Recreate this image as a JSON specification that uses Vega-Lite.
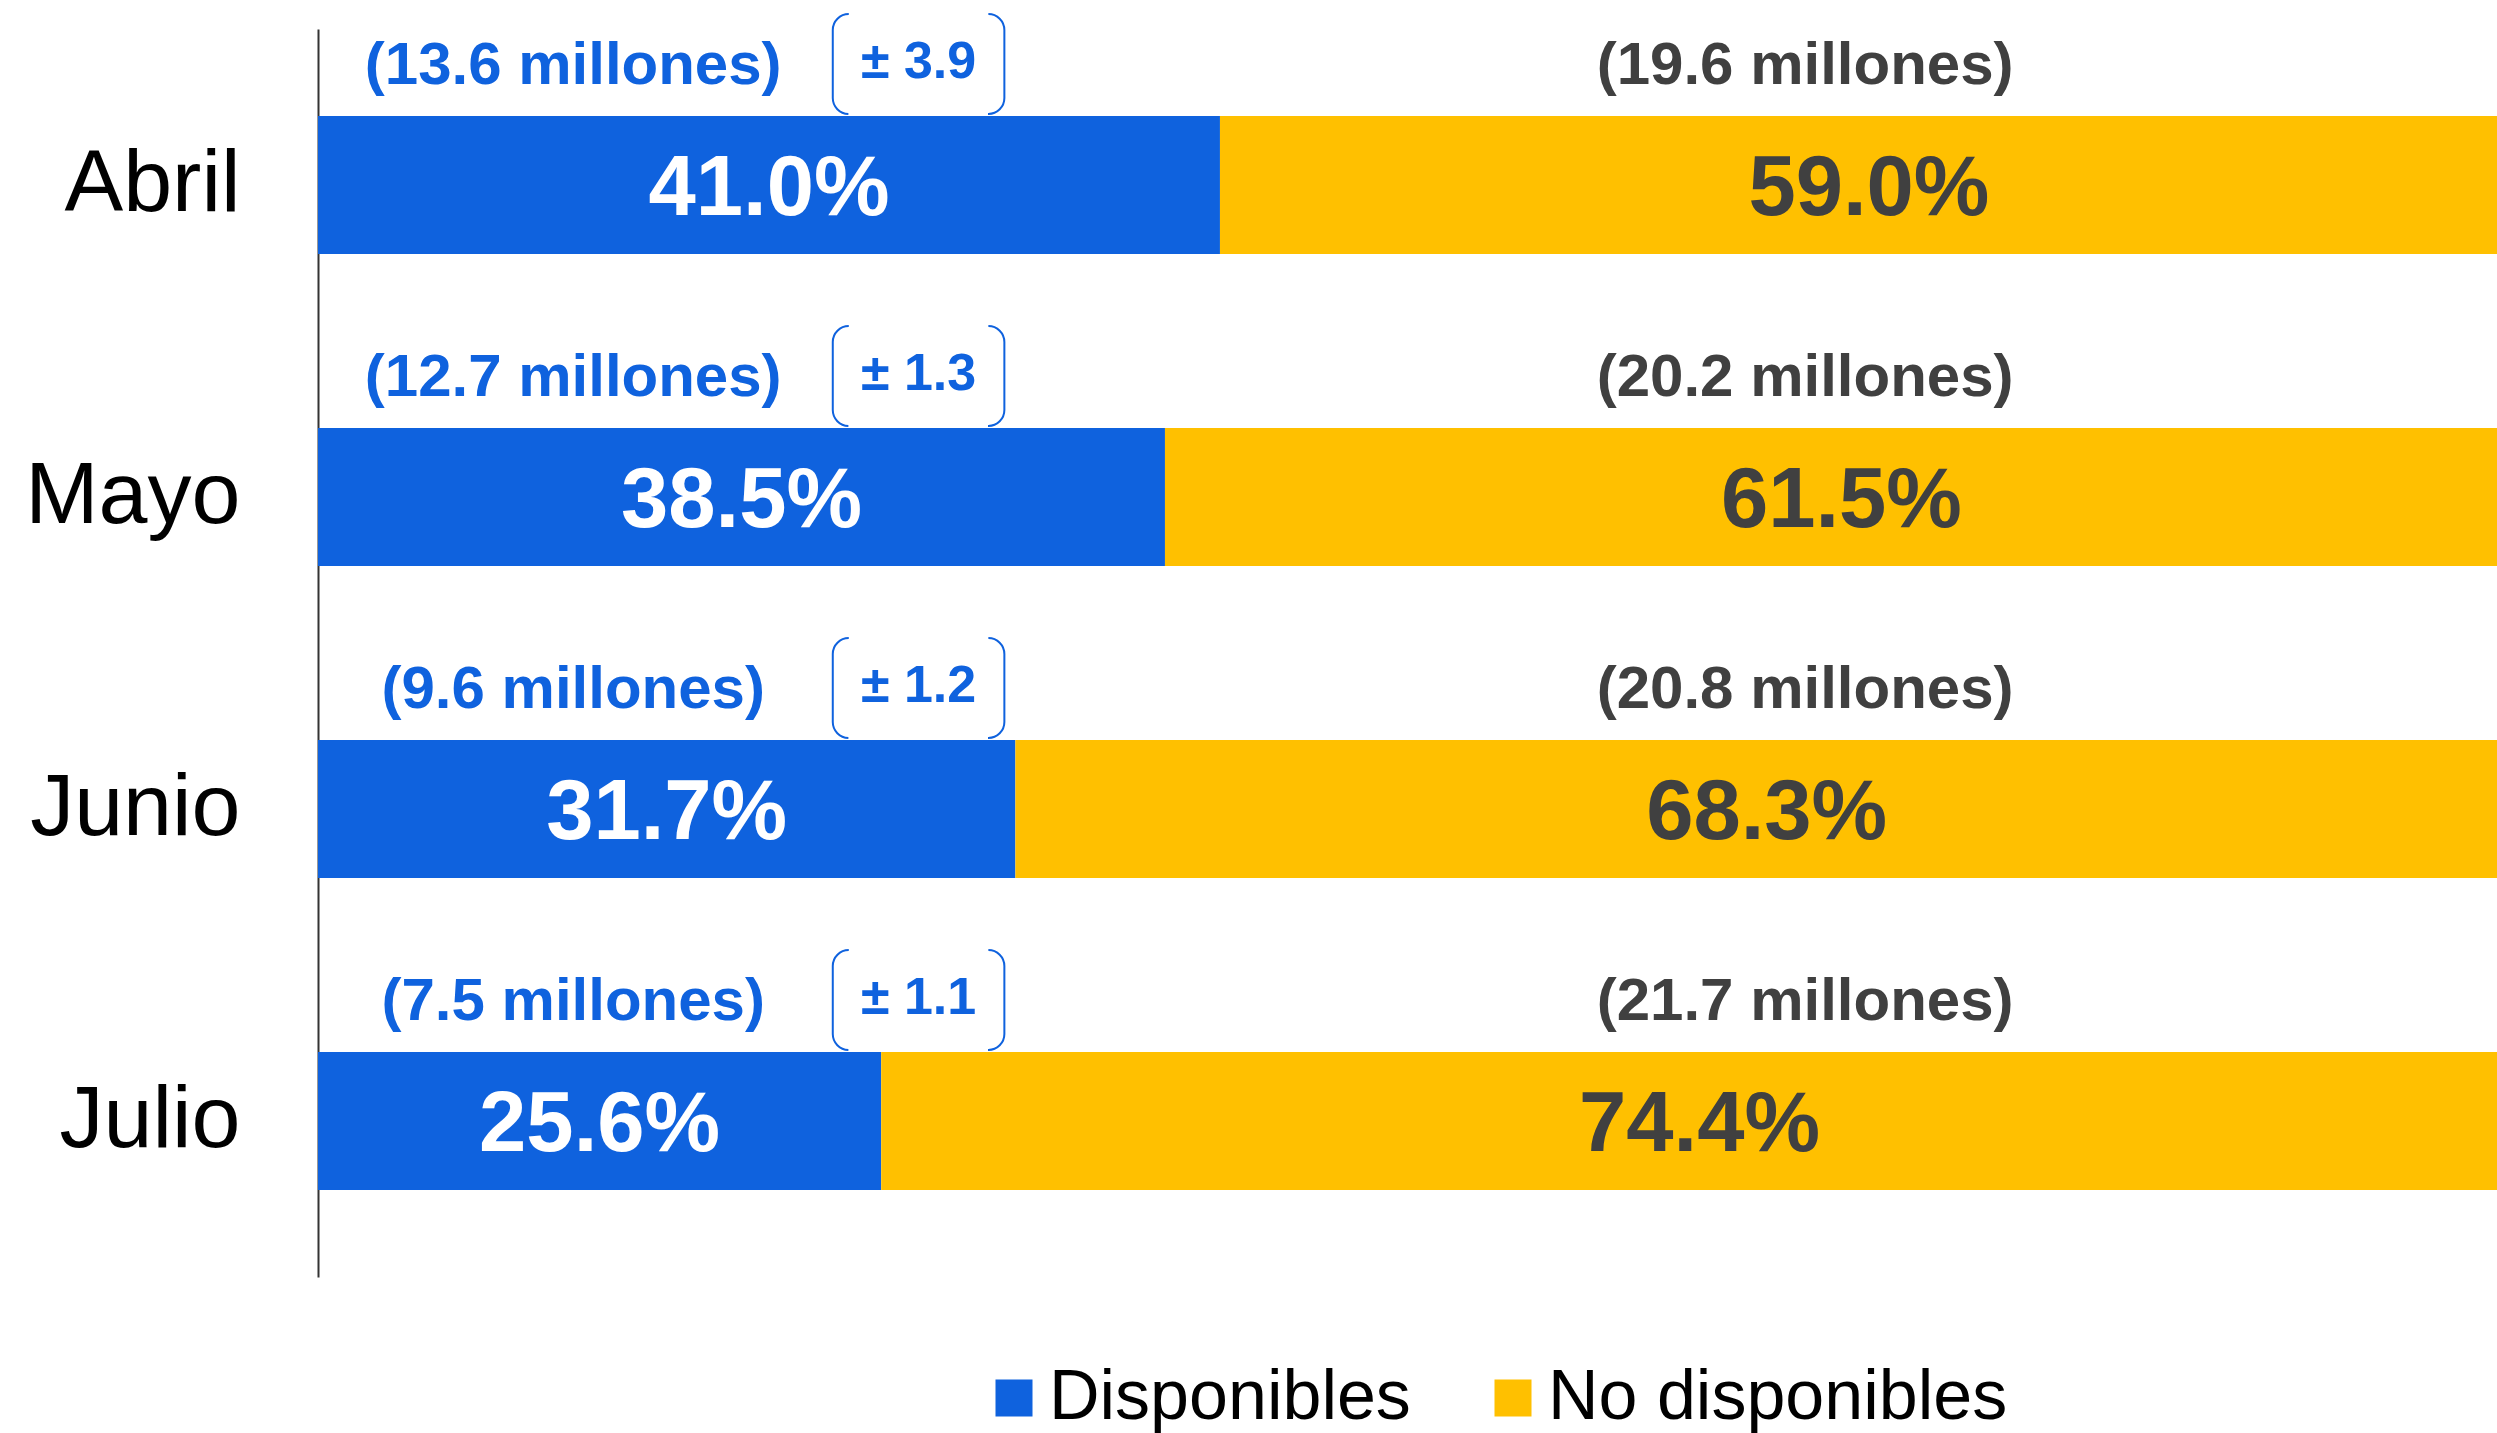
{
  "$schema": "https://vega.github.io/schema/vega-lite/v6.json",
  "width": 2179,
  "height": 1248,
  "autosize": {"type": "none"},
  "padding": {"left": 318, "top": 29, "right": 0, "bottom": 156},
  "background": "white",
  "config": {"view": {"stroke": null}, "font": "Liberation Sans"},
  "datasets": {
    "barras": [
      {"mes": "Abril", "cat": "Disponibles", "pct": 0.410},
      {"mes": "Abril", "cat": "No disponibles", "pct": 0.590},
      {"mes": "Mayo", "cat": "Disponibles", "pct": 0.385},
      {"mes": "Mayo", "cat": "No disponibles", "pct": 0.615},
      {"mes": "Junio", "cat": "Disponibles", "pct": 0.317},
      {"mes": "Junio", "cat": "No disponibles", "pct": 0.683},
      {"mes": "Julio", "cat": "Disponibles", "pct": 0.256},
      {"mes": "Julio", "cat": "No disponibles", "pct": 0.744}
    ],
    "notas": [
      {"mes": "Abril", "disp": "(13.6 millones)", "nodisp": "(19.6 millones)", "moe": "± 3.9"},
      {"mes": "Mayo", "disp": "(12.7 millones)", "nodisp": "(20.2 millones)", "moe": "± 1.3"},
      {"mes": "Junio", "disp": "(9.6 millones)", "nodisp": "(20.8 millones)", "moe": "± 1.2"},
      {"mes": "Julio", "disp": "(7.5 millones)", "nodisp": "(21.7 millones)", "moe": "± 1.1"}
    ]
  },
  "encoding": {
    "y": {
      "field": "mes",
      "type": "nominal",
      "sort": ["Abril", "Mayo", "Junio", "Julio"],
      "scale": {"paddingInner": 0.558, "paddingOuter": 0.279},
      "axis": {
        "title": null,
        "ticks": false,
        "grid": false,
        "labelFontSize": 88,
        "labelColor": "black",
        "labelFont": "Liberation Sans",
        "labelPadding": 78,
        "labelLimit": 0,
        "domainColor": "#333333",
        "domainWidth": 2
      }
    }
  },
  "layer": [
    {
      "data": {"name": "barras"},
      "mark": {"type": "bar", "clip": true},
      "encoding": {
        "x": {
          "field": "pct",
          "type": "quantitative",
          "stack": "zero",
          "scale": {"domain": [0, 0.9905], "nice": false, "zero": true},
          "axis": null
        },
        "color": {
          "field": "cat",
          "type": "nominal",
          "scale": {"domain": ["Disponibles", "No disponibles"], "range": ["#0F62DE", "#FFC000"]},
          "legend": {
            "orient": "none",
            "legendX": 661,
            "legendY": 1334,
            "direction": "horizontal",
            "title": null,
            "symbolType": "square",
            "symbolSize": 1369,
            "symbolStrokeWidth": 0,
            "labelFontSize": 70,
            "labelFont": "Liberation Sans",
            "labelColor": "black",
            "labelLimit": 0,
            "columnPadding": 67,
            "labelOffset": 0,
            "padding": 0
          }
        },
        "order": {"field": "cat", "sort": "ascending"}
      }
    },
    {
      "data": {"name": "barras"},
      "mark": {"type": "text", "fontSize": 85, "fontWeight": "bold", "baseline": "middle", "align": "center", "dy": 4},
      "encoding": {
        "x": {"field": "pct", "type": "quantitative", "stack": "zero", "bandPosition": 0.5},
        "detail": {"field": "cat"},
        "order": {"field": "cat", "sort": "ascending"},
        "text": {"field": "pct", "type": "quantitative", "format": ".1%"},
        "color": {"condition": {"test": "datum.cat === 'Disponibles'", "value": "white"}, "value": "#404040"}
      }
    },
    {
      "data": {"name": "notas"},
      "mark": {"type": "text", "fontSize": 60, "fontWeight": "bold", "baseline": "middle", "align": "center", "dy": -119, "color": "#0F62DE"},
      "encoding": {
        "x": {"datum": 0.116},
        "text": {"field": "disp"}
      }
    },
    {
      "data": {"name": "notas"},
      "mark": {"type": "text", "fontSize": 60, "fontWeight": "bold", "baseline": "middle", "align": "center", "dy": -119, "color": "#404040"},
      "encoding": {
        "x": {"datum": 0.676},
        "text": {"field": "nodisp"}
      }
    },
    {
      "data": {"name": "notas"},
      "mark": {
        "type": "bar",
        "height": 100,
        "yOffset": -121,
        "fill": "transparent",
        "stroke": "#0F62DE",
        "strokeWidth": 2,
        "cornerRadius": 16,
        "strokeDash": [0, 139.6, 118.3, 139.6, 118.3, 0]
      },
      "encoding": {
        "x": {"datum": 0.234},
        "x2": {"datum": 0.312}
      }
    },
    {
      "data": {"name": "notas"},
      "mark": {"type": "text", "fontSize": 52, "fontWeight": "bold", "baseline": "middle", "align": "center", "dy": -123, "color": "#0F62DE"},
      "encoding": {
        "x": {"datum": 0.273},
        "text": {"field": "moe"}
      }
    }
  ]
}
